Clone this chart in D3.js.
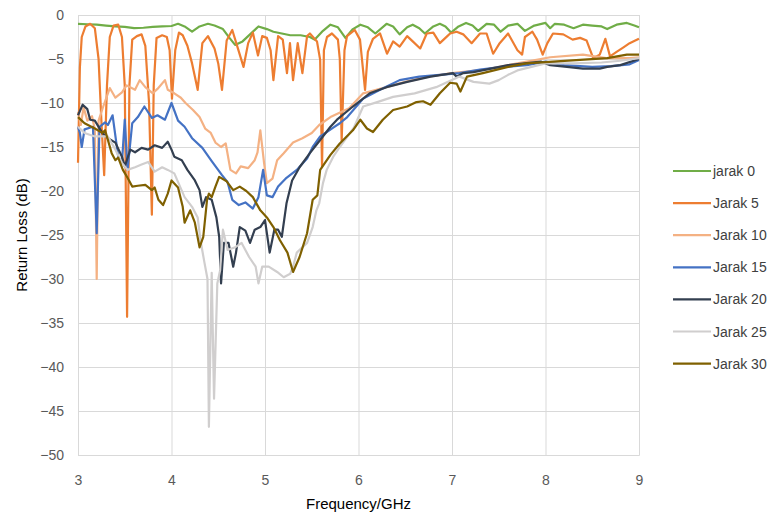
<!DOCTYPE html>
<html>
<head>
<meta charset="utf-8">
<script src="https://cdn.jsdelivr.net/npm/d3@7"></script>
<style>
  body { margin: 0; background: #fff; }
  text { font-family: "Liberation Sans", Arial, sans-serif; }
</style>
</head>
<body>
<div id="chart"></div>
<script>
// series values: [frequency GHz, return loss dB]
var jarak0 = [[3.0,-1.0],[3.1,-1.05],[3.2,-1.1],[3.3,-1.2],[3.4,-1.3],[3.5,-1.35],[3.6,-1.5],[3.7,-1.45],[3.8,-1.35],[3.9,-1.3],[4.0,-1.25],[4.07,-1.0],[4.14,-1.3],[4.22,-1.9],[4.3,-1.3],[4.39,-1.0],[4.46,-1.2],[4.55,-1.6],[4.62,-2.6],[4.68,-3.4],[4.76,-3.0],[4.84,-2.2],[4.93,-1.3],[5.02,-1.6],[5.09,-1.9],[5.18,-2.1],[5.27,-2.3],[5.38,-2.3],[5.48,-2.5],[5.53,-2.8],[5.62,-1.8],[5.7,-1.1],[5.78,-1.4],[5.86,-2.6],[5.94,-1.6],[6.02,-1.1],[6.1,-1.4],[6.18,-2.1],[6.3,-1.0],[6.37,-1.3],[6.44,-2.2],[6.52,-1.4],[6.58,-1.1],[6.65,-1.5],[6.71,-2.1],[6.8,-1.3],[6.87,-1.0],[6.93,-1.3],[6.99,-2.0],[7.07,-1.3],[7.15,-0.9],[7.22,-1.2],[7.28,-1.8],[7.37,-1.0],[7.45,-1.1],[7.52,-1.9],[7.6,-1.2],[7.7,-1.0],[7.78,-1.8],[7.88,-1.2],[8.0,-0.9],[8.05,-1.5],[8.1,-1.0],[8.2,-1.1],[8.3,-1.5],[8.4,-1.1],[8.5,-1.2],[8.6,-1.3],[8.66,-1.6],[8.76,-1.1],[8.87,-0.9],[8.95,-1.2],[9.0,-1.4]];

var jarak5 = [[3.0,-16.8],[3.02,-6],[3.04,-2.5],[3.08,-1.3],[3.13,-1.0],[3.18,-1.5],[3.22,-5],[3.25,-12],[3.28,-18.2],[3.31,-8],[3.34,-2.5],[3.38,-1.2],[3.43,-1.1],[3.47,-2.5],[3.5,-8],[3.525,-34.3],[3.55,-8],[3.58,-2.8],[3.63,-2.4],[3.68,-2.2],[3.72,-3.5],[3.76,-10],[3.79,-22.7],[3.81,-8],[3.84,-2.6],[3.9,-2.3],[3.95,-2.5],[3.98,-4],[4.005,-9.5],[4.04,-4],[4.08,-2.0],[4.12,-2.3],[4.17,-3.5],[4.22,-5.5],[4.28,-8.5],[4.33,-3.2],[4.39,-2.4],[4.46,-3.8],[4.5,-5.5],[4.54,-8.5],[4.59,-2.9],[4.65,-1.7],[4.71,-3.8],[4.77,-5.9],[4.82,-3.2],[4.87,-2.0],[4.925,-4.6],[4.97,-2.4],[5.02,-2.6],[5.06,-4],[5.09,-7.4],[5.14,-2.4],[5.19,-2.8],[5.235,-6.6],[5.267,-3.2],[5.3,-7.4],[5.35,-3.2],[5.4,-6.6],[5.45,-2.4],[5.48,-2.1],[5.556,-3.0],[5.59,-5.1],[5.61,-17.3],[5.63,-4],[5.663,-2.5],[5.716,-2.1],[5.78,-2.8],[5.8,-5],[5.82,-14.3],[5.85,-4],[5.877,-2.4],[5.96,-1.7],[6.016,-2.8],[6.07,-8.5],[6.1,-4.2],[6.155,-2.7],[6.23,-2.1],[6.305,-4.4],[6.37,-3.0],[6.44,-3.6],[6.52,-2.4],[6.58,-3.0],[6.66,-3.8],[6.73,-2.1],[6.8,-2.0],[6.87,-3.2],[6.95,-2.4],[6.98,-2.1],[7.05,-1.9],[7.12,-2.2],[7.21,-3.2],[7.3,-2.1],[7.37,-2.1],[7.44,-4.4],[7.51,-3.2],[7.6,-2.1],[7.7,-4.0],[7.75,-4.5],[7.78,-2.5],[7.86,-1.9],[7.91,-2.8],[7.97,-4.5],[8.02,-3.2],[8.08,-2.1],[8.19,-2.2],[8.29,-2.8],[8.37,-2.6],[8.44,-2.9],[8.51,-4.9],[8.58,-4.5],[8.64,-2.7],[8.69,-4.7],[8.76,-4.2],[8.83,-3.7],[8.9,-3.2],[8.96,-2.9],[9.0,-2.7]];

var jarak10 = [[3.0,-11],[3.03,-12.5],[3.06,-10.5],[3.1,-12],[3.15,-11.5],[3.18,-13],[3.2,-30],[3.22,-12],[3.27,-10.4],[3.34,-8.3],[3.4,-9.4],[3.47,-8.8],[3.52,-8],[3.61,-8.5],[3.66,-7.4],[3.72,-8.2],[3.8,-8.9],[3.85,-8.4],[3.93,-7.4],[3.96,-8.5],[4.03,-8.9],[4.1,-9.4],[4.15,-10],[4.23,-10.8],[4.3,-11.6],[4.36,-12.9],[4.42,-13.4],[4.47,-14.5],[4.53,-15],[4.58,-14.6],[4.63,-17.6],[4.69,-18],[4.74,-17.2],[4.82,-17.4],[4.89,-16.5],[4.92,-15.6],[4.95,-13.1],[4.99,-16.8],[5.02,-19.1],[5.08,-18.6],[5.13,-16.5],[5.2,-15.7],[5.3,-14.5],[5.4,-14],[5.5,-13.4],[5.58,-12.5],[5.7,-11.6],[5.9,-10.6],[6.05,-8.9],[6.3,-8.2],[6.5,-7.6],[6.75,-7],[7.0,-6.6],[7.35,-6.2],[7.7,-5.5],[8.05,-4.8],[8.4,-4.5],[8.65,-4.9],[8.9,-4.9],[9.0,-4.8]];

var jarak15 = [[3.0,-12.7],[3.02,-13.4],[3.04,-15],[3.07,-13],[3.16,-12.7],[3.2,-24.8],[3.23,-12.7],[3.29,-12.2],[3.32,-12.5],[3.37,-11.4],[3.43,-16.1],[3.47,-16.8],[3.5,-11.9],[3.53,-17.6],[3.58,-12.3],[3.64,-11.6],[3.71,-10.4],[3.79,-11.7],[3.85,-11.4],[3.93,-11.9],[4.0,-10],[4.07,-12],[4.14,-12.7],[4.22,-14],[4.33,-15.1],[4.43,-16.6],[4.54,-18.2],[4.6,-19],[4.65,-21],[4.72,-21.6],[4.79,-21.3],[4.87,-22],[4.93,-20.7],[4.98,-17.6],[5.02,-20.5],[5.08,-20.7],[5.14,-19.5],[5.23,-18.5],[5.34,-17.6],[5.45,-16.3],[5.51,-15],[5.59,-13.8],[5.66,-13.3],[5.73,-12.8],[5.8,-12.3],[5.88,-11.6],[6.05,-9.5],[6.23,-8.5],[6.44,-7.4],[6.65,-7],[6.87,-6.8],[7.08,-6.6],[7.3,-6.2],[7.45,-6.0],[7.8,-5.7],[8.0,-5.3],[8.2,-5.7],[8.5,-5.9],[8.7,-5.8],[8.9,-5.6],[9.0,-5.1]];

var jarak20 = [[3.0,-11.4],[3.05,-10.2],[3.1,-10.7],[3.13,-11.9],[3.18,-12],[3.26,-13.4],[3.32,-14],[3.4,-14.5],[3.47,-16.1],[3.5,-17.2],[3.56,-15.3],[3.61,-15.6],[3.68,-15.1],[3.75,-15.3],[3.82,-14.8],[3.9,-15.1],[3.96,-14.4],[4.0,-15.3],[4.03,-16.1],[4.11,-16.5],[4.17,-17.6],[4.25,-18.8],[4.3,-19.9],[4.33,-21.8],[4.37,-20.7],[4.43,-21],[4.48,-23],[4.51,-25.2],[4.53,-30.5],[4.56,-25.9],[4.61,-25.9],[4.66,-28.6],[4.69,-27],[4.73,-24.1],[4.79,-24.5],[4.84,-25.9],[4.89,-24.4],[4.95,-24.1],[5.0,-23.3],[5.05,-27],[5.1,-24.4],[5.14,-24.4],[5.18,-25.2],[5.23,-21.4],[5.29,-18.8],[5.37,-17.3],[5.48,-15.7],[5.59,-14.2],[5.7,-12.7],[5.77,-11.9],[5.94,-10.4],[6.12,-8.9],[6.3,-8.2],[6.52,-7.6],[6.77,-7],[7.01,-6.6],[7.05,-7],[7.12,-6.6],[7.23,-6.5],[7.6,-5.7],[7.95,-5.3],[8.05,-5.7],[8.23,-5.9],[8.4,-6.1],[8.58,-6.1],[8.66,-5.9],[8.8,-5.7],[9.0,-5.0]];

var jarak25 = [[3.0,-12.7],[3.07,-13.4],[3.18,-13.8],[3.32,-13.8],[3.4,-15.3],[3.47,-16.8],[3.53,-17.6],[3.61,-17.3],[3.68,-17],[3.75,-16.7],[3.82,-17.8],[3.9,-17.3],[3.96,-17.6],[4.03,-18],[4.14,-20.7],[4.22,-21.8],[4.28,-23],[4.31,-25.6],[4.35,-28],[4.385,-30],[4.4,-46.8],[4.43,-29.3],[4.455,-43.6],[4.49,-30.5],[4.52,-29],[4.55,-24.4],[4.6,-26.7],[4.68,-26.4],[4.75,-25.9],[4.83,-27.5],[4.9,-28.6],[4.93,-30.5],[4.97,-28.6],[5.04,-28.6],[5.13,-29.2],[5.2,-29.8],[5.27,-29.4],[5.3,-28.6],[5.34,-27],[5.45,-25.9],[5.51,-24.1],[5.55,-22.2],[5.58,-21.4],[5.62,-19.1],[5.66,-17.6],[5.73,-16.1],[5.8,-15],[5.95,-12.8],[6.05,-10.4],[6.2,-9.9],[6.37,-9.3],[6.6,-8.9],[6.83,-8.2],[7.08,-7],[7.23,-7.6],[7.4,-7.8],[7.5,-7.4],[7.6,-6.8],[7.7,-6.3],[8.0,-5.5],[8.3,-5.5],[8.6,-5.4],[8.8,-5.2],[9.0,-4.9]];

var jarak30 = [[3.0,-11.6],[3.07,-12.3],[3.18,-12.9],[3.26,-13.4],[3.29,-13.1],[3.36,-15.7],[3.4,-16.5],[3.43,-16.2],[3.48,-17.6],[3.53,-18.5],[3.58,-19.5],[3.64,-19.4],[3.72,-19.3],[3.79,-19.9],[3.82,-19.6],[3.86,-21],[3.91,-21.6],[3.96,-20.3],[4.0,-18.8],[4.07,-19.6],[4.12,-21.8],[4.14,-23.6],[4.2,-22.2],[4.25,-23.6],[4.3,-26.4],[4.34,-25.2],[4.38,-21],[4.4,-20.3],[4.43,-20.7],[4.47,-19.5],[4.51,-18.4],[4.59,-18.9],[4.66,-19.9],[4.73,-19.5],[4.8,-20],[4.87,-20.7],[4.95,-22.2],[5.02,-23],[5.09,-24.1],[5.16,-25.6],[5.24,-27],[5.3,-29.2],[5.37,-27.5],[5.45,-24.8],[5.51,-21],[5.56,-20.5],[5.59,-17.6],[5.7,-15.9],[5.8,-14.6],[5.94,-13.1],[6.02,-11.9],[6.09,-12.9],[6.155,-13.3],[6.26,-11.9],[6.37,-10.8],[6.52,-10.4],[6.62,-9.9],[6.69,-9.8],[6.77,-10.2],[6.87,-8.9],[6.98,-7.7],[7.05,-7.8],[7.09,-8.7],[7.16,-7],[7.33,-6.6],[7.6,-5.9],[7.8,-5.5],[8.08,-5.3],[8.37,-5.1],[8.66,-4.9],[8.87,-4.5],[9.0,-4.5]];

var seriesNames = ["jarak 0", "Jarak 5", "Jarak 10", "Jarak 15", "Jarak 20", "Jarak 25", "Jarak 30"];
var seriesData = [jarak0, jarak5, jarak10, jarak15, jarak20, jarak25, jarak30];
var seriesColors = ["#70AD47", "#ED7D31", "#F4B183", "#4472C4", "#333F50", "#D0CECE", "#7F6000"];

var xTicks = [3, 4, 5, 6, 7, 8, 9];
var yTicks = [0, -5, -10, -15, -20, -25, -30, -35, -40, -45, -50];

var svgWidth = 773;
var svgHeight = 515;

var margin = {
  top: 15,
  right: 134,
  bottom: 60,
  left: 78
};

var width = svgWidth - margin.left - margin.right;
var height = svgHeight - margin.top - margin.bottom;

var svg = d3.select("#chart")
  .append("svg")
  .attr("width", svgWidth)
  .attr("height", svgHeight);

var chartGroup = svg.append("g")
  .attr("transform", `translate(${margin.left}, ${margin.top})`);

// scales
var xScale = d3.scaleLinear().domain([3, 9]).range([0, width]);
var yScale = d3.scaleLinear().domain([-50, 0]).range([height, 0]);

// gridlines
chartGroup.append("g")
  .call(d3.axisLeft(yScale).tickValues(yTicks).tickSize(-width).tickFormat(""))
  .call(g => g.select(".domain").remove())
  .selectAll("line").attr("stroke", "#d9d9d9");

chartGroup.append("g")
  .attr("transform", `translate(0, ${height})`)
  .call(d3.axisBottom(xScale).tickValues(xTicks).tickSize(-height).tickFormat(""))
  .call(g => g.select(".domain").attr("stroke", "#d9d9d9"))
  .selectAll("line").attr("stroke", "#d9d9d9");

// tick labels
var bottomAxis = chartGroup.append("g")
  .attr("transform", `translate(0, ${height})`)
  .call(d3.axisBottom(xScale).tickValues(xTicks).tickSize(0).tickPadding(20).tickFormat(d3.format("d")));
bottomAxis.select(".domain").remove();
bottomAxis.selectAll("text").attr("fill", "#595959").attr("font-size", "14px");

var leftAxis = chartGroup.append("g")
  .call(d3.axisLeft(yScale).tickValues(yTicks).tickSize(0).tickPadding(14).tickFormat(d3.format("d")));
leftAxis.select(".domain").remove();
leftAxis.selectAll("text").attr("fill", "#595959").attr("font-size", "14px");

// lines
var line = d3.line()
  .x(d => xScale(d[0]))
  .y(d => yScale(d[1]));

chartGroup.selectAll(".series")
  .data(seriesData)
  .enter()
  .append("path")
  .attr("class", "series")
  .attr("d", d => line(d))
  .attr("fill", "none")
  .attr("stroke", (d, i) => seriesColors[i])
  .attr("stroke-width", 2.2)
  .attr("stroke-linejoin", "round");

// axis titles
svg.append("text")
  .attr("transform", "rotate(-90)")
  .attr("x", -(margin.top + height / 2))
  .attr("y", 27)
  .attr("text-anchor", "middle")
  .attr("font-size", "15px")
  .attr("fill", "#000")
  .text("Return Loss (dB)");

svg.append("text")
  .attr("x", margin.left + width / 2)
  .attr("y", 509)
  .attr("text-anchor", "middle")
  .attr("font-size", "15px")
  .attr("fill", "#000")
  .text("Frequency/GHz");

// legend
var legend = svg.append("g")
  .attr("transform", "translate(673, 171)");

var items = legend.selectAll(".item")
  .data(seriesNames)
  .enter()
  .append("g")
  .attr("class", "item")
  .attr("transform", (d, i) => `translate(0, ${i * 32.1})`);

items.append("line")
  .attr("x1", 0).attr("x2", 38)
  .attr("y1", 0).attr("y2", 0)
  .attr("stroke", (d, i) => seriesColors[i])
  .attr("stroke-width", 2.2);

items.append("text")
  .attr("x", 40)
  .attr("y", 5)
  .attr("font-size", "14px")
  .attr("fill", "#404040")
  .text(d => d);
</script>
</body>
</html>
